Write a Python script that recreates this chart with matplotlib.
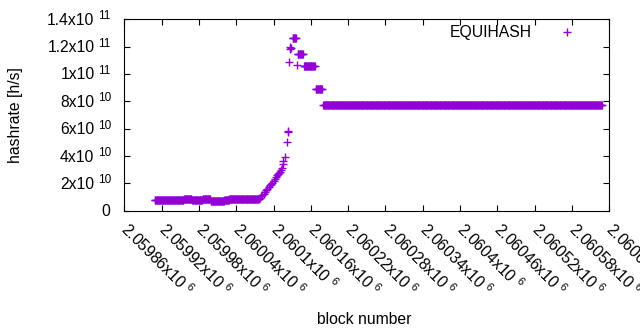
import numpy as np
import matplotlib
matplotlib.use('Agg')
import matplotlib.pyplot as plt
import matplotlib.transforms as mtransforms
from matplotlib.lines import Line2D

# runs of blocks with the same hashrate (first block, last block, hashrate in units of 1e9 h/s)
run_start = [2059909, 2059926, 2059946, 2059956, 2059969, 2059986, 2059999, 2060009, 2060021, 2060029, 2060051,
             2060076, 2060078, 2060080, 2060082, 2060084, 2060086, 2060088, 2060090, 2060092, 2060094,
             2060096, 2060098, 2060100, 2060102, 2060104, 2060106, 2060107, 2060108, 2060110, 2060112,
             2060113, 2060115, 2060116, 2060118, 2060121, 2060123, 2060124,
             2060125, 2060126, 2060127, 2060128, 2060131, 2060137, 2060139, 2060149, 2060168, 2060180]
run_end = [2059925, 2059945, 2059955, 2059968, 2059985, 2059998, 2060008, 2060020, 2060028, 2060050, 2060075,
           2060076, 2060078, 2060080, 2060082, 2060084, 2060086, 2060088, 2060090, 2060092, 2060094,
           2060096, 2060098, 2060100, 2060102, 2060104, 2060106, 2060107, 2060108, 2060110, 2060112,
           2060113, 2060115, 2060116, 2060118, 2060121, 2060123, 2060124,
           2060125, 2060126, 2060127, 2060128, 2060136, 2060137, 2060147, 2060166, 2060178, 2060628]
run_hashrate = [7.6, 8.0, 7.8, 8.6, 7.8, 8.2, 7.4, 6.8, 7.6, 8.6, 8.2,
                8.5, 9.5, 10.5, 11.5, 12.5, 14.0, 15.0, 16.0, 17.5, 18.5,
                19.5, 20.5, 21.5, 23.0, 24.5, 26.0, 27.0, 27.5, 28.0, 30.0,
                31.5, 34.0, 36.0, 39.5, 50.0, 58.0, 57.5,
                108.5, 120.0, 118.5, 119.0, 126.0, 106.5, 114.5, 105.5, 88.8, 77.0]

x_ticks = np.arange(2059860, 2060641, 60)
x_ticklabels = ['2.05986', '2.05992', '2.05998', '2.06004', '2.0601', '2.06016', '2.06022',
                '2.06028', '2.06034', '2.0604', '2.06046', '2.06052', '2.06058', '2.06064']
y_ticks = np.arange(0, 1.41e11, 2e10)
y_mant = ['0', '2', '4', '6', '8', '1', '1.2', '1.4']
y_exp = ['', '10', '10', '10', '10', '11', '11', '11']

plt.rcParams['font.family'] = ['Liberation Sans', 'DejaVu Sans']
plt.rcParams['mathtext.fontset'] = 'custom'
plt.rcParams['mathtext.rm'] = 'Liberation Sans'
plt.rcParams['mathtext.it'] = 'Liberation Sans:italic'
plt.rcParams['mathtext.bf'] = 'Liberation Sans:bold'

fs = 11.3
fs_sup = 8.5
purple = '#9400d3'
px = 0.72  # points per pixel at dpi 100

# expand each run into one point per block
blocks = []
hashrate = []
for s, e, v in zip(run_start, run_end, run_hashrate):
    for b in range(s, e + 1):
        blocks.append(b)
        hashrate.append(v * 1e9)

fig = plt.figure(figsize=(6.4, 3.3), dpi=100)
ax = fig.add_axes([124.3 / 640, 1 - 210.7 / 330, 485 / 640, 191.4 / 330])

ax.plot(blocks, hashrate, linestyle='none', marker='+', ms=5.5, mew=1.0, color=purple)

ax.set_xlim(2059860, 2060640)
ax.set_ylim(0, 1.4e11)

ax.set_xticks(x_ticks)
ax.set_xticklabels([r'$\mathregular{%sx10\ }^{6}$' % t for t in x_ticklabels],
                   rotation=-45, ha='left', va='center', rotation_mode='anchor', fontsize=fs)

# y tick labels written by hand: mantissa x10 then raised exponent
ax.set_yticks(y_ticks)
ax.set_yticklabels([])
trans = mtransforms.blended_transform_factory(fig.transFigure, ax.transData)
base_tr = mtransforms.offset_copy(trans, fig=fig, y=-5.5 * px, units='points')
sup_tr = mtransforms.offset_copy(trans, fig=fig, y=0.0, units='points')
for v, m, e in zip(y_ticks, y_mant, y_exp):
    if e == '':
        ax.text(110.5 / 640, v, m, transform=base_tr, ha='right', va='baseline', fontsize=fs)
    else:
        ax.text(94.5 / 640, v, m + 'x10', transform=base_tr, ha='right', va='baseline', fontsize=fs)
        ax.text(98 / 640, v, e, transform=sup_tr, ha='left', va='baseline', fontsize=fs_sup)

ax.tick_params(direction='in', length=4, width=0.8, top=True, right=True, color='black')
ax.tick_params(axis='x', pad=11)
for sp in ax.spines.values():
    sp.set_linewidth(0.8)

fig.text(16 / 640, 1 - 115 / 330, 'hashrate [h/s]', rotation=90, ha='center', va='center', fontsize=fs)
fig.text(364 / 640, 1 - 319 / 330, 'block number', ha='center', va='center', fontsize=fs)

# key (text first, then sample, gnuplot style)
fig.text(532 / 640, 1 - 32 / 330, 'EQUIHASH', ha='right', va='center', fontsize=fs)
fig.add_artist(Line2D([566.7 / 640], [1 - 32 / 330], transform=fig.transFigure,
                      linestyle='none', marker='+', ms=5.5, mew=1.0, color=purple))

fig.savefig('out.png', dpi=100)
